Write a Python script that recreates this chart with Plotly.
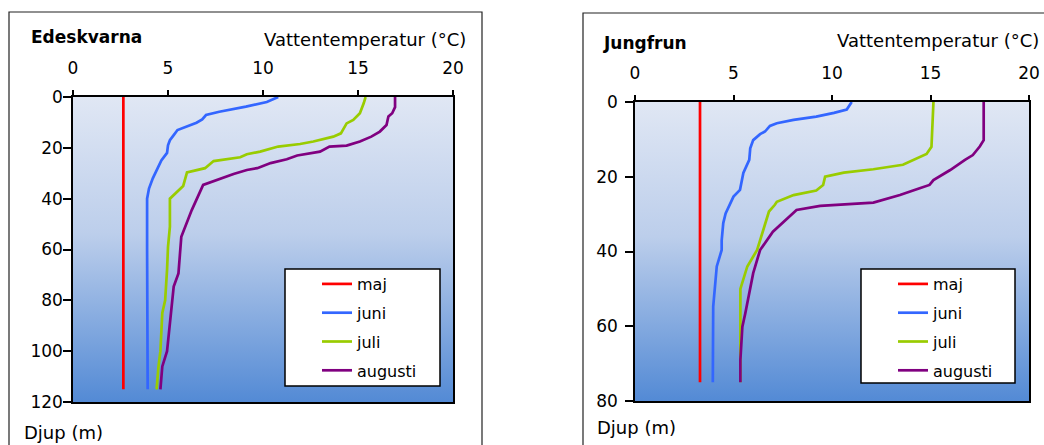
import base64
import plotly.graph_objects as go

W, H = 1044, 445

# ---------------- data: Edeskvarna ----------------
ede_maj_d = [0, 115]
ede_maj_t = [2.65, 2.65]
ede_juni_d = [0, 2, 3.8, 4.5, 5.8, 7.1, 8.8, 10.1, 11, 13, 15, 17, 19, 22, 25, 28, 32, 36, 40, 60, 80, 100, 115]
ede_juni_t = [10.8, 10.2, 9.1, 8.6, 7.7, 7.0, 6.8, 6.5, 6.2, 5.5, 5.3, 5.1, 5.0, 4.95, 4.65, 4.45, 4.2, 4.0, 3.9, 3.9, 3.9, 3.92, 3.93]
ede_juli_d = [0, 2.5, 6.4, 9, 10.4, 14.3, 15.6, 16.6, 17.5, 18.5, 19.5, 21.5, 22.5, 23.7, 25.2, 28, 29.7, 35, 40, 51, 59, 68, 80, 85, 100, 106, 115]
ede_juli_t = [15.4, 15.3, 15.1, 14.75, 14.4, 14.1, 13.7, 13.2, 12.65, 11.95, 10.8, 9.85, 9.15, 8.8, 7.4, 6.95, 6.0, 5.8, 5.1, 5.1, 5.0, 4.95, 4.85, 4.7, 4.6, 4.5, 4.4]
ede_aug_d = [0, 4, 6.4, 7.7, 11, 13.6, 15.6, 17.5, 19.1, 19.5, 21.5, 22, 23, 24.5, 26, 28, 28.7, 30.3, 34.6, 44.5, 55, 69.4, 74.6, 100, 106, 115]
ede_aug_t = [16.95, 16.95, 16.8, 16.6, 16.5, 16.15, 15.7, 15.1, 14.4, 13.5, 13.0, 12.65, 11.8, 11.25, 10.4, 9.7, 9.15, 8.45, 6.85, 6.25, 5.7, 5.55, 5.3, 4.95, 4.7, 4.6]

# ---------------- data: Jungfrun ----------------
jun_maj_d = [0, 75]
jun_maj_t = [3.3, 3.3]
jun_juni_d = [0, 2, 2.9, 3.9, 4.8, 5.7, 6.4, 7.9, 8.6, 10.2, 12.4, 15.5, 19, 23.5, 25.3, 29.8, 32.4, 37, 39.6, 44, 54.7, 75]
jun_juni_t = [11.0, 10.75, 10.1, 9.2, 8.05, 7.2, 6.85, 6.6, 6.35, 6.0, 5.85, 5.8, 5.5, 5.33, 5.0, 4.6, 4.48, 4.4, 4.4, 4.15, 3.97, 3.95]
jun_juli_d = [0, 12, 13.9, 15.3, 16.8, 18, 18.9, 20, 22.2, 23.7, 24.9, 26.7, 27.5, 29.3, 39.6, 44, 50, 60, 75]
jun_juli_t = [15.15, 15.05, 14.8, 14.2, 13.6, 12.1, 10.6, 9.65, 9.55, 9.2, 8.05, 7.2, 7.1, 6.8, 6.2, 5.7, 5.35, 5.35, 5.35]
jun_aug_d = [0, 10.2, 11.9, 14.2, 15.5, 18.2, 20.9, 22.2, 23.1, 24.4, 24.9, 26.9, 27.4, 27.8, 28.9, 34.7, 39.6, 45.8, 56.5, 60.1, 69, 75]
jun_aug_t = [17.7, 17.7, 17.5, 17.15, 16.75, 16.0, 15.15, 14.95, 14.45, 13.8, 13.45, 12.1, 10.6, 9.4, 8.2, 7.0, 6.35, 6.0, 5.6, 5.45, 5.35, 5.35]

months = ["maj", "juni", "juli", "augusti"]
colors = ["#FF0000", "#3366FF", "#99CC00", "#800080"]
x_ticks = [0, 5, 10, 15, 20]

FONT = "DejaVu Sans, Verdana, sans-serif"


def px_x(v):
    return v / W


def px_y(v):
    return 1 - v / H


# plot areas in pixels
L = dict(x0=73, x1=453, y0=97, y1=402)
R = dict(x0=635, x1=1029, y0=102, y1=401)

fig = go.Figure()

ede = [(ede_maj_t, ede_maj_d), (ede_juni_t, ede_juni_d), (ede_juli_t, ede_juli_d), (ede_aug_t, ede_aug_d)]
jun = [(jun_maj_t, jun_maj_d), (jun_juni_t, jun_juni_d), (jun_juli_t, jun_juli_d), (jun_aug_t, jun_aug_d)]

for i, (t, d) in enumerate(ede):
    fig.add_trace(go.Scatter(x=t, y=d, mode="lines", name=months[i],
                             line=dict(color=colors[i], width=2.7),
                             xaxis="x", yaxis="y", legend="legend",
                             legendgroup="a%d" % i))
for i, (t, d) in enumerate(jun):
    fig.add_trace(go.Scatter(x=t, y=d, mode="lines", name=months[i],
                             line=dict(color=colors[i], width=2.7),
                             xaxis="x2", yaxis="y2", legend="legend2",
                             legendgroup="b%d" % i))

axis_common = dict(showgrid=False, zeroline=False, showline=True, linecolor="black",
                   linewidth=1.5, mirror=True, ticks="outside", tickcolor="black",
                   tickwidth=1.5, automargin=False,
                   tickfont=dict(family=FONT, size=17, color="black"))

fig.update_layout(
    width=W, height=H,
    margin=dict(l=0, r=0, t=0, b=0, pad=0, autoexpand=False),
    paper_bgcolor="white",
    plot_bgcolor="rgba(0,0,0,0)",
    font=dict(family=FONT, color="black"),
    xaxis=dict(domain=[px_x(L["x0"]), px_x(L["x1"])], range=[0, 20], tickvals=x_ticks,
               side="top", anchor="y", ticklen=5, ticklabelstandoff=9, **axis_common),
    yaxis=dict(domain=[px_y(L["y1"]), px_y(L["y0"])], range=[120, 0], dtick=20,
               anchor="x", ticklen=8, ticklabelstandoff=-3, **axis_common),
    xaxis2=dict(domain=[px_x(R["x0"]), px_x(R["x1"])], range=[0, 20], tickvals=x_ticks,
                side="top", anchor="y2", ticklen=5, ticklabelstandoff=9, **axis_common),
    yaxis2=dict(domain=[px_y(R["y1"]), px_y(R["y0"])], range=[80, 0], dtick=20,
                anchor="x2", ticklen=8, ticklabelstandoff=4, **axis_common),
    legend=dict(x=px_x(317), y=px_y(267), xanchor="left", yanchor="top",
                bgcolor="rgba(0,0,0,0)", borderwidth=0, tracegroupgap=5,
                font=dict(family=FONT, size=16, color="black")),
    legend2=dict(x=px_x(893), y=px_y(267), xanchor="left", yanchor="top",
                 bgcolor="rgba(0,0,0,0)", borderwidth=0, tracegroupgap=5,
                 font=dict(family=FONT, size=16, color="black")),
    showlegend=True,
)

# gradient background of both plot areas
svg = ('<svg xmlns="http://www.w3.org/2000/svg" width="100" height="100" preserveAspectRatio="none">'
       '<defs><linearGradient id="g" x1="0" y1="0" x2="0" y2="1">'
       '<stop offset="0" stop-color="#E0E7F4"/><stop offset="0.45" stop-color="#BCCEEB"/>'
       '<stop offset="1" stop-color="#538AD5"/></linearGradient></defs>'
       '<rect width="100" height="100" fill="url(#g)"/></svg>')
src = "data:image/svg+xml;base64," + base64.b64encode(svg.encode()).decode()
for P in (L, R):
    fig.add_layout_image(dict(source=src, xref="paper", yref="paper",
                              x=px_x(P["x0"]), y=px_y(P["y0"]),
                              sizex=(P["x1"] - P["x0"]) / W, sizey=(P["y1"] - P["y0"]) / H,
                              xanchor="left", yanchor="top", sizing="stretch", layer="below"))

# outer frames
fig.add_shape(type="rect", xref="paper", yref="paper", x0=px_x(9), x1=px_x(482),
              y0=px_y(12), y1=px_y(460), line=dict(color="#222222", width=1.2))
fig.add_shape(type="rect", xref="paper", yref="paper", x0=px_x(583), x1=px_x(1060),
              y0=px_y(13), y1=px_y(460), line=dict(color="#222222", width=1.2))

# legend boxes
fig.add_shape(type="rect", xref="paper", yref="paper", x0=px_x(285), x1=px_x(440),
              y0=px_y(269), y1=px_y(386), fillcolor="white", line=dict(color="black", width=1.5))
fig.add_shape(type="rect", xref="paper", yref="paper", x0=px_x(861), x1=px_x(1015),
              y0=px_y(269), y1=px_y(383), fillcolor="white", line=dict(color="black", width=1.5))

def ann(text, x, y, anchor, bold=False, size=18):
    fig.add_annotation(text="<b>%s</b>" % text if bold else text, xref="paper", yref="paper",
                       x=px_x(x), y=px_y(y), xanchor=anchor, yanchor="middle", showarrow=False,
                       font=dict(family=FONT, size=size, color="black"))

ann("Edeskvarna", 29, 37, "left", bold=True, size=17)
ann("Vattentemperatur (°C)", 468, 39, "right")
ann("Djup (m)", 22, 432, "left")
ann("Jungfrun", 601, 43, "left", bold=True, size=17)
ann("Vattentemperatur (°C)", 1041, 40, "right")
ann("Djup (m)", 595, 427, "left")

fig.write_html("out.html", config={"responsive": False, "displayModeBar": False},
               post_script="document.body.style.margin='0';document.body.style.overflow='hidden';")
